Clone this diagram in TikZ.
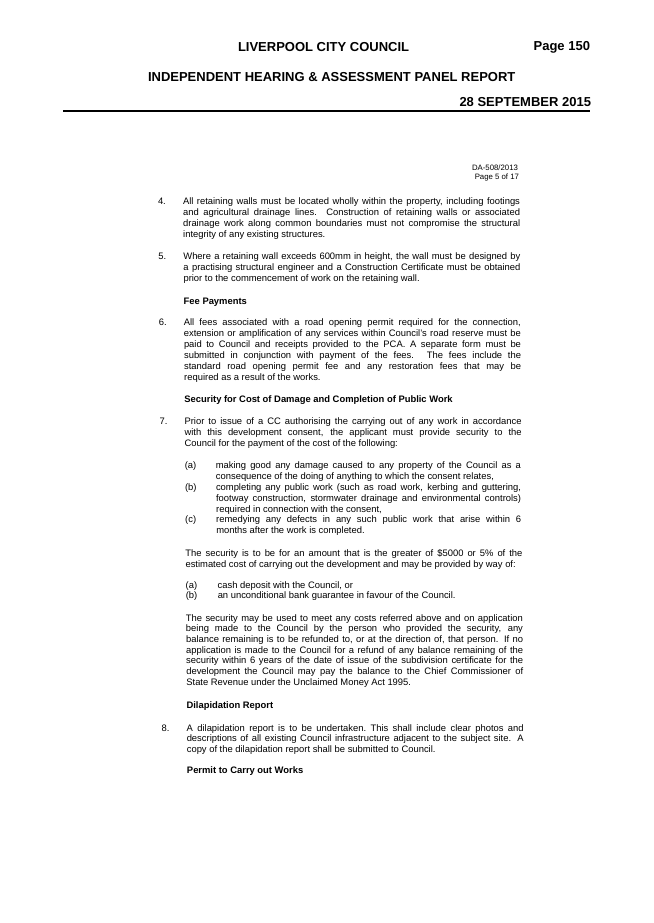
\documentclass[tikz,border=0pt]{standalone}
\usepackage{fontspec}
\setmainfont{Liberation Sans}
\newcommand{\JL}[5]{\node[txt] (#1) at ({#2+(#3-204)*0.007},#3) {\makebox[#4pt][s]{#5}};}
\newcommand{\LL}[4]{\node[txt] (#1) at ({#2+(#3-204)*0.007},#3) {#4};}
\newcommand{\HL}[4]{\node[head] (#1) at ({#2+(#3-204)*0.007},#3) {#4};}
\begin{document}
\begin{tikzpicture}[x=1pt,y=-1pt,
  txt/.style={anchor=base west,inner sep=0pt,outer sep=0pt,font=\fontsize{9.4}{11}\selectfont},
  head/.style={txt,font=\fontsize{9.4}{11}\selectfont\bfseries},
  title/.style={inner sep=0pt,outer sep=0pt,font=\fontsize{13}{15}\selectfont\bfseries},
  small/.style={anchor=base east,inner sep=0pt,outer sep=0pt,font=\fontsize{7.8}{9}\selectfont}]
\fill[white] (0,0) rectangle (653,923);
\useasboundingbox (0,0) rectangle (653,923);
% header
\node[title,anchor=base west] (lcc) at (238,52) {LIVERPOOL CITY COUNCIL};
\node[title,anchor=base east] (pg) at (590,51) {Page 150};
\node[title,anchor=base west] (ihap) at (148,82) {INDEPENDENT HEARING \& ASSESSMENT PANEL REPORT};
\node[title,anchor=base east] (date) at (591,107) {28 SEPTEMBER 2015};
\coordinate (rl) at (63,111);
\coordinate (rr) at (590,111);
\draw[line width=1.2pt] (rl) -- (rr);
\node[small] (da) at (518,170) {DA-508/2013};
\node[small] (p5) at (519,179) {Page 5 of 17};
% item 4
\LL{n4}{158}{204}{4.}
\JL{a1}{183}{204}{337}{All retaining walls must be located wholly within the property, including footings}
\JL{a2}{183}{215}{337}{and agricultural drainage lines.  Construction of retaining walls or associated}
\JL{a3}{183}{226}{337}{drainage work along common boundaries must not compromise the structural}
\LL{a4}{183}{237}{integrity of any existing structures.}
% item 5
\LL{n5}{158}{259}{5.}
\JL{b1}{183}{259}{337}{Where a retaining wall exceeds 600mm in height, the wall must be designed by}
\JL{b2}{183}{270}{337}{a practising structural engineer and a Construction Certificate must be obtained}
\LL{b3}{183}{281}{prior to the commencement of work on the retaining wall.}
\HL{h1}{183}{304}{Fee Payments}
% item 6
\LL{n6}{158}{325}{6.}
\JL{c1}{183}{325}{337}{All fees associated with a road opening permit required for the connection,}
\JL{c2}{183}{336}{337}{extension or amplification of any services within Council's road reserve must be}
\JL{c3}{183}{347}{337}{paid to Council and receipts provided to the PCA.  A separate form must be}
\JL{c4}{183}{358}{337}{submitted in conjunction with payment of the fees.  The fees include the}
\JL{c5}{183}{369}{337}{standard road opening permit fee and any restoration fees that may be}
\LL{c6}{183}{380}{required as a result of the works.}
\HL{h2}{183}{402}{Security for Cost of Damage and Completion of Public Work}
% item 7
\LL{n7}{158}{424}{7.}
\JL{d1}{183}{424}{337}{Prior to issue of a CC authorising the carrying out of any work in accordance}
\JL{d2}{183}{435}{337}{with this development consent, the applicant must provide security to the}
\LL{d3}{183}{446}{Council for the payment of the cost of the following:}
\LL{sa}{183}{468}{(a)}
\JL{e1}{214}{468}{305}{making good any damage caused to any property of the Council as a}
\LL{e2}{214}{479}{consequence of the doing of anything to which the consent relates,}
\LL{sb}{183}{490}{(b)}
\JL{f1}{214}{490}{305}{completing any public work (such as road work, kerbing and guttering,}
\JL{f2}{214}{501}{305}{footway construction, stormwater drainage and environmental controls)}
\LL{f3}{214}{512}{required in connection with the consent,}
\LL{sc}{183}{522}{(c)}
\JL{g1}{214}{522}{305}{remedying any defects in any such public work that arise within 6}
\LL{g2}{214}{533}{months after the work is completed.}
\JL{i1}{183}{556}{337}{The security is to be for an amount that is the greater of \$5000 or 5\% of the}
\LL{i2}{183}{567}{estimated cost of carrying out the development and may be provided by way of:}
\LL{ta}{183}{588}{(a)}
\LL{j1}{215}{588}{cash deposit with the Council, or}
\LL{tb}{183}{598}{(b)}
\LL{j2}{215}{598}{an unconditional bank guarantee in favour of the Council.}
\JL{k1}{183}{621}{337}{The security may be used to meet any costs referred above and on application}
\JL{k2}{183}{631.7}{337}{being made to the Council by the person who provided the security, any}
\JL{k3}{183}{642.4}{337}{balance remaining is to be refunded to, or at the direction of, that person.  If no}
\JL{k4}{183}{653.1}{337}{application is made to the Council for a refund of any balance remaining of the}
\JL{k5}{183}{663.8}{337}{security within 6 years of the date of issue of the subdivision certificate for the}
\JL{k6}{183}{674.5}{337}{development the Council may pay the balance to the Chief Commissioner of}
\LL{k7}{183}{685.2}{State Revenue under the Unclaimed Money Act 1995.}
\HL{h3}{183}{708}{Dilapidation Report}
% item 8
\LL{n8}{158}{731}{8.}
\JL{m1}{183}{731}{337}{A dilapidation report is to be undertaken.\ This shall include clear photos and}
\JL{m2}{183}{741.5}{337}{descriptions of all existing Council infrastructure adjacent to the subject site.  A}
\LL{m3}{183}{752}{copy of the dilapidation report shall be submitted to Council.}
\HL{h4}{183}{773}{Permit to Carry out Works}
\end{tikzpicture}
\end{document}
